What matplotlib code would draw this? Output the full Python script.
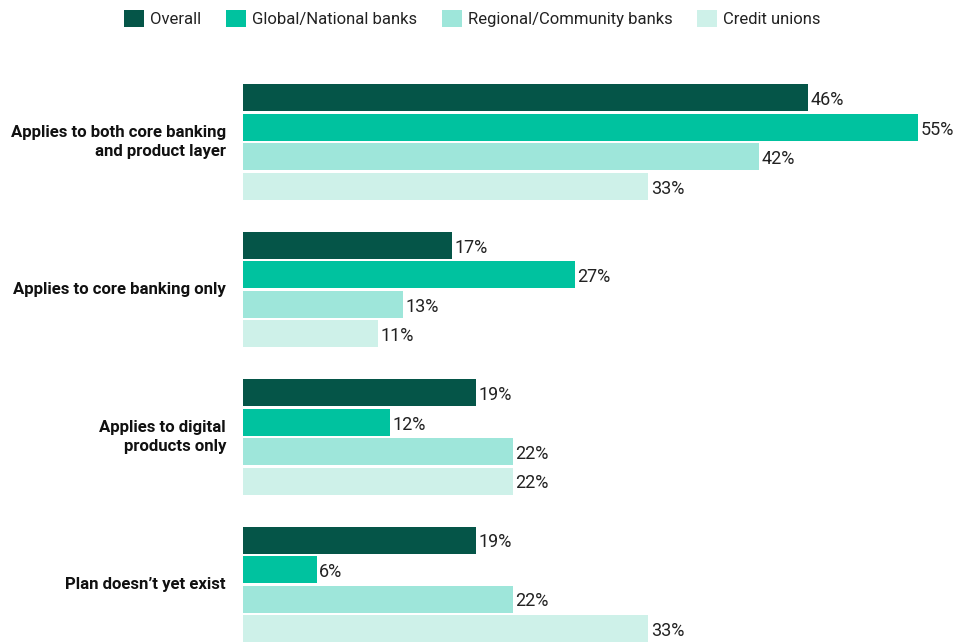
import matplotlib
matplotlib.use("Agg")
import matplotlib.pyplot as plt
from matplotlib.patches import Patch

plt.rcParams['font.family'] = ['Roboto', 'DejaVu Sans']

categories = [
    "Applies to both core banking\nand product layer",
    "Applies to core banking only",
    "Applies to digital\nproducts only",
    "Plan doesn\u2019t yet exist",
]
series_names = ["Overall", "Global/National banks", "Regional/Community banks", "Credit unions"]
overall = [46, 17, 19, 19]
global_national = [55, 27, 12, 6]
regional_community = [42, 13, 22, 22]
credit_unions = [33, 11, 22, 33]
series_values = [overall, global_national, regional_community, credit_unions]
colors = ["#055548", "#00C29F", "#9EE6DA", "#CEF1E9"]

W, H = 954, 642
px_per_pct = 12.28
fig = plt.figure(figsize=(W / 100, H / 100), dpi=100)
ax = fig.add_axes([243 / W, 0, (W - 243) / W, (641 - 70) / H])

group_step = 5.0
bar_h = 0.914
for i, (name, vals, col) in enumerate(zip(series_names, series_values, colors)):
    ys = [g * group_step + i for g in range(len(categories))]
    ax.barh(ys, vals, height=bar_h, color=col, label=name)
    for y, v in zip(ys, vals):
        ax.text(v + 0.2, y + 0.08, f"{v}%", va="center", ha="left", fontsize=13, color="#222222")

ax.set_xlim(0, (W - 243) / px_per_pct)
ax.set_ylim(18.457, -0.913)
ax.axis("off")

for g, cat in enumerate(categories):
    ax.text(-17.0 / px_per_pct, g * group_step + 1.5, cat, ha="right", va="center",
            fontsize=12.1, fontweight="semibold", color="#111111", linespacing=1.3)

handles = [Patch(facecolor=c, edgecolor="none") for c in colors]
fig.legend(handles, series_names, loc="upper center", bbox_to_anchor=(0.495, 1.008), ncol=4,
           frameon=False, fontsize=12, handlelength=1.2, handleheight=1.2,
           handletextpad=0.35, columnspacing=1.5, labelcolor="#222222")

fig.savefig("out.png", dpi=100)
